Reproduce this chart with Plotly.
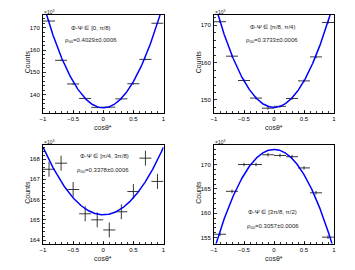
import numpy as np
import plotly.graph_objects as go

W, H = 355, 270

# ---- data (counts in units of 10^3) ----
cos_bins = [-0.9, -0.7, -0.5, -0.3, -0.1, 0.1, 0.3, 0.5, 0.7, 0.9]
bin_half_width = 0.1

counts_p1 = [173.0, 155.4, 144.8, 138.3, 134.3, 134.4, 138.1, 144.9, 155.8, 172.0]
counts_p2 = [170.9, 161.7, 155.2, 150.5, 147.8, 148.3, 150.4, 155.1, 161.5, 170.7]
counts_p3 = [167.5, 167.8, 166.5, 165.3, 165.0, 164.5, 165.4, 166.4, 168.05, 166.9]
counts_p4 = [155.7, 164.5, 170.0, 170.0, 172.0, 171.85, 171.6, 169.3, 164.2, 155.1]
count_err = [0.37] * 10

# fit results: rho00 and fitted value at cos(theta*) = 0
rho00 = [0.4029, 0.3733, 0.3378, 0.3057]
fit_at0 = [134.1, 148.0, 165.25, 173.1]

labels_phi = ["Φ-Ψ ∈ [0, π/8)", "Φ-Ψ ∈ [π/8, π/4)", "Φ-Ψ ∈ [π/4, 3π/8)", "Φ-Ψ ∈ [3π/8, π/2)"]
labels_rho = ["ρ<sub>00</sub>=0.4029±0.0006", "ρ<sub>00</sub>=0.3733±0.0006",
              "ρ<sub>00</sub>=0.3378±0.0006", "ρ<sub>00</sub>=0.3057±0.0006"]

y_ranges = [[132.0, 175.7], [146.6, 172.7], [163.83, 168.7], [153.8, 174.0]]
y_dtick = [10, 10, 1, 5]
y_minor = [2, 2, 0.2, 1]

all_counts = [counts_p1, counts_p2, counts_p3, counts_p4]

# ---- layout geometry (pixels) ----
frames = [  # x0, x1, ytop, ybottom
    (43, 163.5, 15, 112.5),
    (214, 334, 15, 112.7),
    (43, 163.5, 145, 243.5),
    (214, 334, 145, 243.5),
]
text_pos = [  # (cx, y line1), (cx, y line2)
    ((91, 28), (91, 40)),
    ((272, 27), (272, 40.5)),
    ((104, 156), (103, 170)),
    ((272, 212), (273, 226.5)),
]

FONT = "Liberation Sans"
fig = go.Figure()
annotations = []
layout = dict(width=W, height=H, margin=dict(l=0, r=0, t=0, b=0, autoexpand=False),
              paper_bgcolor="white", plot_bgcolor="white", showlegend=False,
              font=dict(family=FONT, size=6, color="black"))


def note(text, px, py, size, color="#222", **kw):
    d = dict(text=text, x=px / W, y=1 - py / H, xref="paper", yref="paper",
             showarrow=False, xanchor="center", yanchor="middle",
             font=dict(size=size, family=FONT, color=color))
    d.update(kw)
    return d


xfine = np.linspace(-1, 1, 401)
for i in range(4):
    ax = "" if i == 0 else str(i + 1)
    xa, ya = "x" + ax, "y" + ax
    x0, x1, yt, yb = frames[i]
    # data points with bin-width and stat errors
    fig.add_trace(go.Scatter(
        x=cos_bins, y=all_counts[i], mode="markers",
        marker=dict(size=0.1, color="black"),
        error_x=dict(type="constant", value=bin_half_width, width=0, thickness=0.9, color="#222"),
        error_y=dict(type="data", array=count_err, width=0, thickness=0.9, color="#222"),
        xaxis=xa, yaxis=ya, cliponaxis=True, hoverinfo="skip"))
    # fit curve
    r = rho00[i]
    yfit = fit_at0[i] * (1 + (3 * r - 1) / (1 - r) * xfine ** 2)
    fig.add_trace(go.Scatter(x=xfine, y=yfit, mode="lines",
                             line=dict(color="#0000ff", width=1.5),
                             xaxis=xa, yaxis=ya, hoverinfo="skip"))
    common = dict(showline=True, linecolor="black", linewidth=1, mirror=True,
                  ticks="inside", ticklen=3, tickwidth=0.8, tickcolor="black",
                  showgrid=False, zeroline=False, automargin=False,
                  tickfont=dict(family=FONT, size=6, color="black"))
    layout["xaxis" + ax] = dict(
        domain=[x0 / W, x1 / W], range=[-1, 1], anchor=ya,
        tickvals=[-1, -0.5, 0, 0.5, 1], ticktext=["−1", "−0.5", "0", "0.5", "1"],
        minor=dict(dtick=0.1, ticks="inside", ticklen=1.5, tickcolor="black"),
        ticklabelstandoff=0, **common)
    layout["yaxis" + ax] = dict(
        domain=[1 - yb / H, 1 - yt / H], range=y_ranges[i], anchor=xa,
        dtick=y_dtick[i], tick0=0,
        minor=dict(dtick=y_minor[i], ticks="inside", ticklen=1.5, tickcolor="black"),
        ticklabelstandoff=1, **common)
    # axis titles
    annotations.append(note("cosθ*", (x0 + x1) / 2, yb + 15, 7))
    annotations.append(note("Counts", x0 - 15.5, (yt + yb) / 2 - 2, 7, textangle=-90))
    annotations.append(note("×10<sup>3</sup>", x0 - 1, yt - 3, 5, xanchor="left"))
    (c1, y1), (c2, y2) = text_pos[i]
    annotations.append(note(labels_phi[i], c1, y1, 6))
    annotations.append(note(labels_rho[i], c2, y2, 6))

layout["annotations"] = annotations
fig.update_layout(**layout)
fig.write_html("out.html", config={"displayModeBar": False, "staticPlot": True},
               post_script="document.body.style.margin='0';document.body.style.overflow='hidden';")
